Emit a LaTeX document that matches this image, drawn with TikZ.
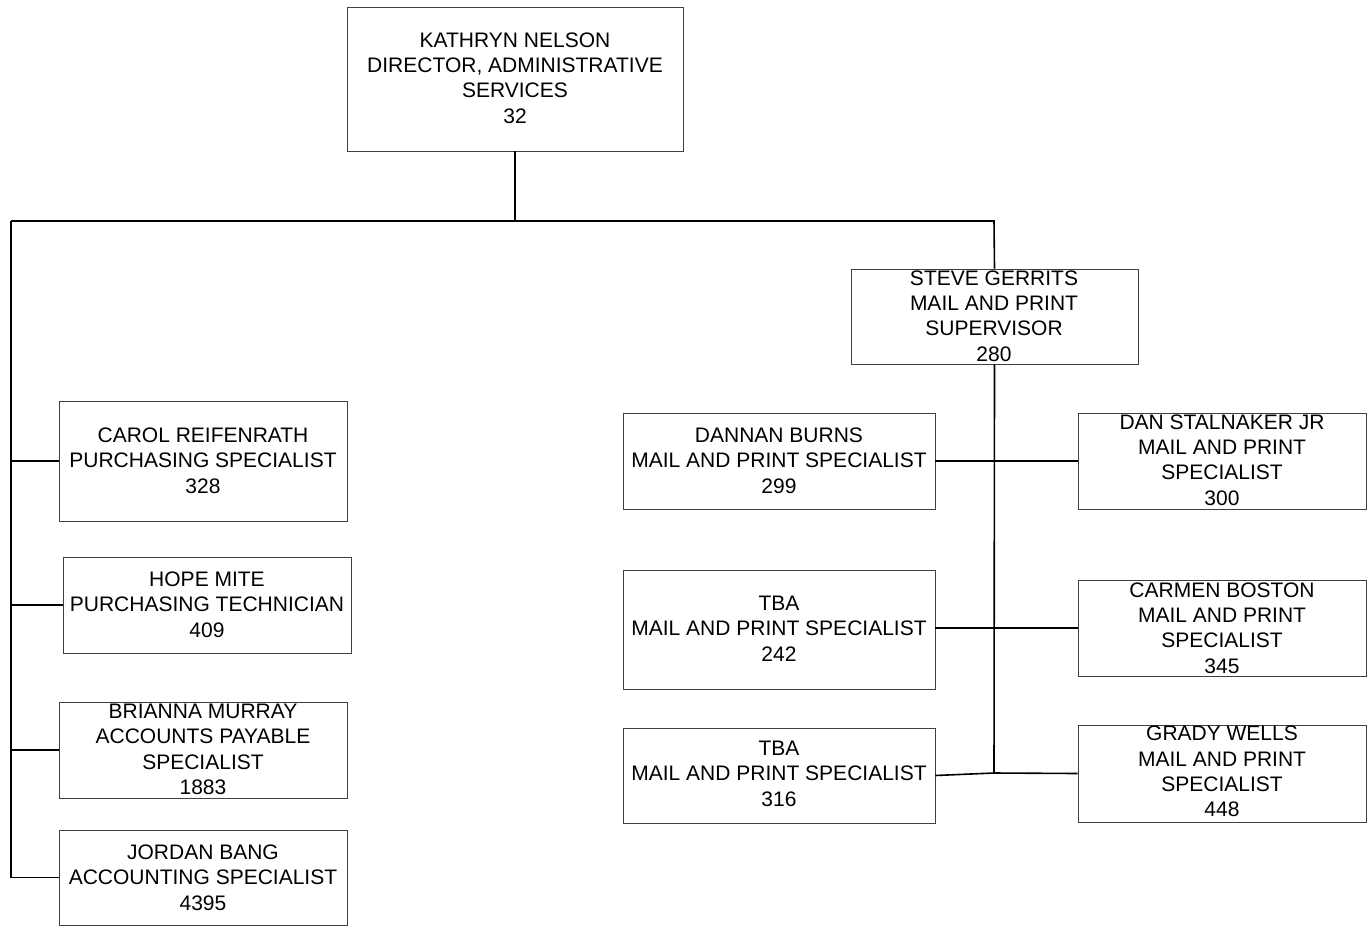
\documentclass[tikz,border=0pt]{standalone}
\usepackage{fontspec}
\setmainfont{Liberation Sans}
\begin{document}
\begin{tikzpicture}[x=1pt,y=-1pt,
  obox/.style={draw=black!75,line width=0.9pt,rectangle,inner sep=0pt},
  otext/.style={align=center,inner sep=0pt,font=\fontsize{21}{25.4}\selectfont},
  conn/.style={draw=black,line width=1.6pt}]
\useasboundingbox (0,0) rectangle (1372,926);
% boxes
\node[obox,minimum width=336pt,minimum height=144pt] (kn) at (515,79) {};
\node[obox,minimum width=287pt,minimum height=95pt] (sg) at (994.5,316.5) {};
\node[obox,minimum width=288pt,minimum height=120pt] (cr) at (203,461) {};
\node[obox,minimum width=288pt,minimum height=96pt] (hm) at (207,605) {};
\node[obox,minimum width=288pt,minimum height=96pt] (bm) at (203,750) {};
\node[obox,minimum width=288pt,minimum height=95pt] (jb) at (203,877.5) {};
\node[obox,minimum width=312pt,minimum height=96pt] (db) at (779,461) {};
\node[obox,minimum width=312pt,minimum height=119pt] (ta) at (779,629.5) {};
\node[obox,minimum width=312pt,minimum height=95pt] (tb) at (779,775.5) {};
\node[obox,minimum width=288pt,minimum height=96pt] (ds) at (1222,461) {};
\node[obox,minimum width=288pt,minimum height=96pt] (cb) at (1222,628) {};
\node[obox,minimum width=288pt,minimum height=97pt] (gw) at (1222,773.5) {};
% texts
\node[otext] (knt) at (515,78) {KATHRYN NELSON\\DIRECTOR, ADMINISTRATIVE\\SERVICES\\32};
\node[otext] (sgt) at (994,316) {STEVE GERRITS\\MAIL AND PRINT\\SUPERVISOR\\280};
\node[otext] (crt) at (203,460.5) {CAROL REIFENRATH\\PURCHASING SPECIALIST\\328};
\node[otext] (hmt) at (207,604.5) {HOPE MITE\\PURCHASING TECHNICIAN\\409};
\node[otext] (bmt) at (203,749.5) {BRIANNA MURRAY\\ACCOUNTS PAYABLE\\SPECIALIST\\1883};
\node[otext] (jbt) at (203,877.5) {JORDAN BANG\\ACCOUNTING SPECIALIST\\4395};
\node[otext] (dbt) at (779,460.5) {DANNAN BURNS\\MAIL AND PRINT SPECIALIST\\299};
\node[otext] (tat) at (779,628.5) {TBA\\MAIL AND PRINT SPECIALIST\\242};
\node[otext] (tbt) at (779,773.5) {TBA\\MAIL AND PRINT SPECIALIST\\316};
\node[otext] (dst) at (1222,460) {DAN STALNAKER JR\\MAIL AND PRINT\\SPECIALIST\\300};
\node[otext] (cbt) at (1222,628) {CARMEN BOSTON\\MAIL AND PRINT\\SPECIALIST\\345};
\node[otext] (gwt) at (1222,771.5) {GRADY WELLS\\MAIL AND PRINT\\SPECIALIST\\448};
% connectors
\coordinate (j0) at (515,221);
\coordinate (jl) at (11,221);
\coordinate (jr) at (994,221);
\coordinate (jm) at (994,773);
\draw[conn] (kn.south) -- (j0);
\draw[conn] (jl) -- (jr) -- (sg.north);
\draw[conn] (jl) -- (jl |- jb.west);
\draw[conn] (cr.west) -- (cr.west -| jl);
\draw[conn] (hm.west) -- (hm.west -| jl);
\draw[conn] (bm.west) -- (bm.west -| jl);
\draw[conn] (jb.west) -- (jb.west -| jl);
\draw[conn] (sg.south) -- (jm);
\draw[conn] (db.east) -- (ds.west);
\draw[conn] (cb.west -| ta.east) -- (cb.west);
\draw[conn] (tb.east) -- (jm) -- (gw.west);
\end{tikzpicture}
\end{document}
